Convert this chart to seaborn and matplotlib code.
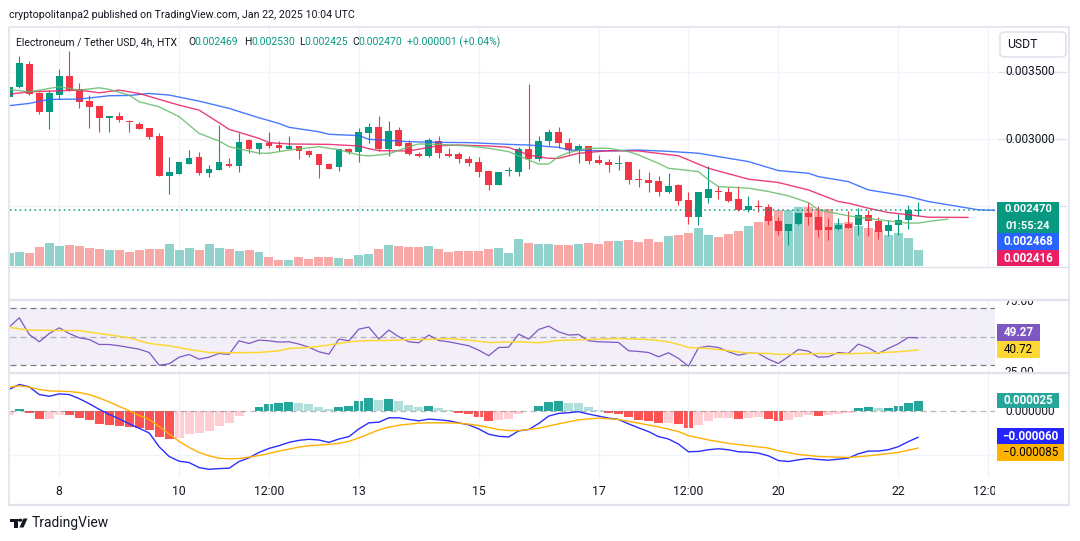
import numpy as np
import seaborn as sns
import matplotlib.pyplot as plt
from matplotlib.patches import Rectangle, FancyBboxPatch, Polygon, Circle

# ELN/USDT 4h bars, Jan 7 04:00 .. Jan 22 08:00 UTC (index 0..91), prices in 1e-6 USDT
opens = [3309, 3386, 3562, 3344, 3200, 3327, 3468, 3371, 3282, 3245,
         3156, 3171, 3131, 3111, 3082, 3022, 2728, 2743, 2817, 2866,
         2750, 2772, 2814, 2802, 2993, 2928, 2970, 2955, 2928, 2948,
         2908, 2886, 2814, 2795, 2926, 2906, 3045, 3087, 2928, 3067,
         2968, 2889, 2874, 2985, 2889, 2889, 2852, 2829, 2762, 2661,
         2760, 2757, 2926, 2849, 2988, 3052, 2970, 2913, 2948, 2844,
         2829, 2817, 2829, 2703, 2696, 2688, 2606, 2661, 2547, 2416,
         2564, 2614, 2609, 2554, 2468, 2503, 2495, 2386, 2312, 2364,
         2451, 2421, 2347, 2327, 2369, 2357, 2436, 2391, 2312, 2357,
         2399, 2469]
highs = [3401, 3616, 3577, 3351, 3364, 3520, 3653, 3416, 3327, 3247,
         3172, 3200, 3141, 3126, 3083, 3042, 2866, 2830, 2916, 2901,
         2804, 3104, 2856, 3047, 3000, 2971, 3052, 2985, 3022, 2949,
         2918, 2887, 2822, 2927, 2933, 3082, 3119, 3171, 3134, 3087,
         2993, 2903, 3005, 3022, 2936, 2906, 2874, 2864, 2763, 2753,
         2795, 2938, 3408, 3022, 3077, 3089, 3007, 2960, 2950, 2881,
         2852, 2881, 2830, 2780, 2752, 2725, 2748, 2666, 2606, 2609,
         2800, 2653, 2641, 2651, 2577, 2547, 2517, 2418, 2370, 2452,
         2532, 2498, 2413, 2413, 2465, 2485, 2470, 2418, 2394, 2443,
         2507, 2530]
lows = [3302, 3376, 3327, 3186, 3074, 3295, 3359, 3230, 3082, 3054,
        3052, 3126, 3054, 3072, 2998, 2727, 2587, 2742, 2816, 2735,
        2715, 2771, 2790, 2757, 2894, 2891, 2933, 2911, 2927, 2854,
        2869, 2713, 2775, 2762, 2891, 2832, 2968, 2908, 2876, 2949,
        2881, 2869, 2869, 2856, 2864, 2824, 2800, 2720, 2624, 2660,
        2728, 2728, 2775, 2839, 2955, 2931, 2886, 2824, 2817, 2814,
        2755, 2770, 2666, 2646, 2602, 2572, 2599, 2512, 2371, 2361,
        2527, 2554, 2534, 2467, 2453, 2453, 2361, 2282, 2208, 2363,
        2361, 2267, 2245, 2324, 2337, 2287, 2280, 2258, 2275, 2287,
        2332, 2425]
closes = [3389, 3569, 3334, 3200, 3342, 3468, 3364, 3277, 3238, 3156,
          3171, 3141, 3126, 3077, 3017, 2728, 2752, 2829, 2859, 2750,
          2777, 2829, 2800, 2978, 2928, 2970, 2950, 2933, 2948, 2913,
          2884, 2807, 2780, 2926, 2906, 3050, 3087, 2928, 3059, 2950,
          2891, 2876, 2993, 2899, 2876, 2854, 2824, 2757, 2661, 2752,
          2765, 2923, 2849, 2985, 3052, 2973, 2918, 2948, 2839, 2824,
          2807, 2822, 2698, 2698, 2676, 2606, 2653, 2542, 2416, 2602,
          2626, 2602, 2535, 2468, 2503, 2498, 2386, 2312, 2369, 2451,
          2416, 2322, 2319, 2361, 2339, 2436, 2386, 2307, 2361, 2399,
          2468, 2470]
# relative volume
volumes = [40, 42, 39, 57, 69, 60, 63, 60, 54, 51,
           48, 48, 42, 48, 51, 51, 66, 48, 54, 48,
           66, 54, 51, 45, 48, 42, 27, 18, 18, 27,
           21, 27, 27, 24, 21, 33, 36, 51, 63, 60,
           57, 57, 60, 51, 42, 45, 45, 45, 51, 54,
           39, 81, 69, 66, 66, 63, 63, 66, 69, 66,
           75, 75, 78, 72, 81, 72, 90, 93, 99, 114,
           93, 87, 96, 105, 120, 132, 150, 168, 168, 177,
           177, 171, 171, 129, 132, 120, 114, 108, 93, 99,
           84, 48]

# Williams Alligator lines (already shifted forward), bar index -> price 1e-6
jaw_k = [0, 2, 4, 7, 10, 12, 14, 16, 19, 22, 25, 27, 28, 31, 32, 35, 36, 40, 43, 46,
         50, 52, 55, 56, 60, 63, 66, 69, 71, 74, 77, 80, 81, 84, 86, 88, 90, 92, 95, 97, 99]
jaw = [3248, 3265, 3295, 3297, 3322, 3324, 3339, 3327, 3282, 3228, 3158, 3116, 3087, 3054,
       3035, 3025, 2998, 2980, 2975, 2973, 2960, 2955, 2938, 2918, 2911, 2918, 2908, 2894,
       2869, 2832, 2765, 2745, 2720, 2683, 2621, 2597, 2572, 2535, 2498, 2473, 2468]
teeth_k = [0, 2, 7, 9, 11, 13, 15, 17, 19, 21, 22, 25, 26, 28, 32, 35, 36, 37, 40, 43, 45,
           48, 50, 52, 54, 55, 57, 60, 63, 67, 70, 74, 77, 80, 83, 84, 86, 88, 90, 92, 96]
teeth = [3334, 3351, 3364, 3344, 3364, 3339, 3295, 3252, 3215, 3121, 3072, 3005, 2973, 2963,
         2960, 2948, 2928, 2913, 2911, 2950, 2955, 2948, 2938, 2881, 2856, 2856, 2894, 2913,
         2911, 2875, 2782, 2701, 2676, 2621, 2535, 2522, 2485, 2453, 2436, 2418, 2416]
lips_k = [0, 2, 5, 7, 9, 10, 12, 13, 15, 17, 19, 21, 22, 25, 26, 28, 31, 33, 35, 36, 38, 40,
          41, 43, 46, 48, 50, 52, 53, 54, 55, 56, 58, 60, 62, 63, 65, 66, 69, 70, 71, 74, 76,
          78, 80, 81, 83, 84, 87, 90, 91, 92, 94]
lips = [3369, 3351, 3389, 3364, 3381, 3369, 3327, 3277, 3240, 3166, 3042, 2985, 2943, 2894,
        2894, 2918, 2943, 2920, 2881, 2874, 2889, 2943, 2963, 2960, 2948, 2931, 2906, 2844,
        2814, 2814, 2869, 2899, 2931, 2931, 2906, 2881, 2819, 2782, 2757, 2696, 2646, 2634,
        2609, 2577, 2527, 2473, 2443, 2428, 2399, 2374, 2374, 2386, 2404]

# RSI(14) and its MA
rsi = [57.0, 63.3, 51.6, 46.5, 52.3, 56.3, 52.3, 49.3, 48.1, 44.6,
       44.6, 43.7, 42.5, 41.3, 39.0, 30.1, 31.0, 35.7, 37.6, 34.3,
       35.7, 38.3, 37.6, 47.2, 45.3, 47.7, 47.2, 46.3, 46.5, 44.9,
       42.7, 39.5, 37.8, 48.4, 47.2, 55.4, 56.8, 48.4, 54.7, 50.0,
       46.5, 45.8, 51.2, 47.4, 46.5, 45.1, 43.7, 40.6, 36.7, 42.5,
       42.7, 51.9, 48.4, 55.1, 57.5, 53.5, 51.2, 51.6, 47.2, 46.5,
       46.3, 46.0, 40.2, 39.7, 39.0, 36.0, 38.8, 34.8, 29.4, 42.3,
       43.4, 42.5, 39.5, 37.1, 38.5, 38.3, 34.3, 31.3, 36.0, 41.1,
       39.9, 35.7, 36.0, 39.0, 38.3, 44.9, 42.3, 38.3, 41.8, 45.1,
       49.5, 49.27]
rsi_ma_k = [0, 2, 5, 7, 9, 12, 14, 16, 18, 20, 22, 25, 27, 28, 30, 32, 34, 36, 38, 40, 42, 44,
            46, 48, 51, 53, 55, 58, 61, 64, 66, 67, 68, 70, 72, 74, 76, 77, 79, 81, 84, 86, 89, 91]
rsi_ma = [56.6, 54.7, 54.4, 54.4, 52.3, 49.3, 45.3, 43.7, 41.1, 39.0, 38.8, 39.0, 40.2, 41.8,
          42.5, 44.2, 46.5, 47.4, 47.4, 48.1, 48.1, 48.8, 47.7, 46.0, 46.5, 45.8, 47.4, 48.1,
          48.8, 48.1, 46.5, 44.6, 42.5, 41.8, 40.2, 38.5, 38.3, 37.6, 37.8, 38.3, 38.1, 38.5,
          39.5, 40.72]

# MACD (1e-6)
macd = [51.0, 62.4, 56.9, 39.0, 35.1, 40.6, 39.0, 29.6, 17.9, 4.7,
        -7.0, -17.2, -28.9, -39.0, -49.9, -81.9, -104.5, -115.4, -118.6, -130.3,
        -134.2, -132.6, -131.8, -116.2, -107.6, -95.2, -85.8, -79.6, -71.8, -67.1,
        -64.7, -66.3, -71.8, -64.0, -58.5, -40.6, -26.5, -25.0, -14.8, -14.8,
        -18.7, -21.8, -17.9, -19.5, -21.8, -26.5, -31.2, -40.6, -53.0, -57.7,
        -59.3, -45.2, -42.1, -28.1, -10.9, -4.7, -3.1, -0.8, -6.2, -10.9,
        -15.6, -18.7, -28.9, -38.2, -46.8, -58.5, -64.0, -75.7, -93.6, -92.8,
        -88.9, -86.6, -88.9, -93.6, -94.4, -96.7, -103.0, -113.9, -116.2, -112.3,
        -109.2, -111.5, -113.1, -110.8, -108.4, -98.3, -92.0, -92.0, -88.9, -81.9,
        -70.2, -60.0]
signal_k = [0, 1, 2, 3, 4, 6, 7, 8, 9, 10, 11, 12, 13, 14, 15, 16, 17, 18, 19, 20, 21, 22,
            23, 24, 25, 26, 27, 28, 29, 30, 31, 32, 33, 34, 35, 36, 37, 38, 39, 40, 41, 42,
            43, 44, 45, 46, 47, 48, 49, 50, 51, 53, 55, 57, 59, 61, 63, 65, 67, 68, 70, 72,
            74, 76, 77, 79, 81, 84, 86, 89, 91]
signal = [56.2, 59.3, 56.2, 50.7, 47.6, 46.0, 43.7, 39.0, 31.2, 21.8, 11.7, 1.6, -9.4, -18.7,
          -35.1, -52.3, -69.4, -83.5, -95.2, -103.0, -108.4, -110.0, -109.2, -106.1, -102.2,
          -97.5, -92.0, -87.4, -82.7, -79.6, -78.0, -76.4, -74.1, -69.4, -61.6, -52.3, -42.9,
          -36.7, -32.0, -29.6, -27.3, -26.5, -26.5, -26.5, -27.3, -29.6, -32.8, -37.4, -42.1,
          -44.5, -44.5, -39.0, -28.9, -19.5, -15.6, -18.7, -27.3, -35.9, -46.8, -56.2, -66.3,
          -74.1, -79.6, -85.0, -91.3, -99.8, -104.5, -106.9, -103.0, -95.2, -85.0]
hist = [-7.8, 4.7, -3.9, -17.9, -17.2, -8.6, -9.4, -15.6, -21.1, -29.6,
        -32.0, -34.3, -36.7, -39.0, -42.1, -60.1, -64.7, -62.4, -53.0, -50.7,
        -46.0, -34.3, -27.3, -10.9, 0.8, 9.4, 16.4, 18.7, 21.1, 18.7,
        16.4, 9.4, 4.7, 9.4, 11.7, 23.4, 30.4, 25.7, 28.1, 23.4,
        14.0, 9.4, 11.7, 7.0, 2.3, -3.9, -6.2, -13.3, -22.6, -20.3,
        -17.9, -6.2, 0.8, 11.7, 21.1, 23.4, 19.5, 18.7, 9.4, 2.3,
        -3.9, -6.2, -13.3, -20.3, -22.6, -27.3, -26.5, -29.6, -39.0, -32.0,
        -22.6, -15.6, -14.8, -17.9, -15.6, -13.3, -17.9, -22.6, -20.3, -13.3,
        -8.6, -10.9, -8.6, -6.2, -3.9, 7.0, 9.4, 7.0, 7.5, 11.7,
        18.7, 25.0]

price_ticks = [0.0025, 0.0030, 0.0035]
price_labels = [0.0030, 0.0035]  # the 0.0025 label sits under the last-price tag
tick_pos = [5, 17, 26, 35, 47, 59, 68, 77, 89, 98]
tick_labels = ["8", "10", "12:00", "13", "15", "17", "12:00", "20", "22", "12:00"]
last_change = 0.000001
last_change_pct = 0.04
time_left = "01:55:24"

# ---------------------------------------------------------------
sns.set_theme(style="white")
plt.rcParams["font.family"] = ["Roboto", "DejaVu Sans"]

W, H = 1080, 541
fig = plt.figure(figsize=(W / 100, H / 100), dpi=100)
fig.patch.set_facecolor("white")

TXT = "#131722"
GRID = "#f0f3fa"
BORDER = "#e0e3eb"
UP, DOWN = "#089981", "#f23645"

k = np.arange(len(closes))
o = np.array(opens) / 1e6
h = np.array(highs) / 1e6
l = np.array(lows) / 1e6
c = np.array(closes) / 1e6
up = c >= o
xlim = ((10 - 9.3) / 9.988, (995 - 9.3) / 9.988)
plim = (0.0020472, 0.0038337)


def pane(x0, y0, x1, y1, face="none"):
    a = fig.add_axes([x0 / W, 1 - y1 / H, (x1 - x0) / W, (y1 - y0) / H])
    a.set_facecolor(face)
    a.set_xticks([])
    a.set_yticks([])
    for s in a.spines.values():
        s.set_visible(False)
    return a


def ftext(x, y, s, **kw):
    kw.setdefault("color", TXT)
    kw.setdefault("va", "center")
    return fig.text(x / W, 1 - y / H, s, **kw)


def frect(x0, y0, x1, y1, color, z=5):
    fig.add_artist(Rectangle((x0 / W, 1 - y1 / H), (x1 - x0) / W, (y1 - y0) / H,
                             transform=fig.transFigure, color=color, lw=0, zorder=z))


def fline(xs, ys, color=BORDER, lw=1.2, z=4):
    fig.add_artist(plt.Line2D([x / W for x in xs], [1 - y / H for y in ys],
                              color=color, lw=lw, zorder=z))


# --- main pane: grid, volume, candles, alligator ---
axg = pane(10, 27, 995, 267, face="white")
axg.set_xlim(xlim)
axg.set_ylim(plim)
for t in tick_pos:
    axg.axvline(t, color=GRID, lw=1)
for p in price_ticks:
    axg.axhline(p, color=GRID, lw=1)

axv = pane(10, 27, 995, 267)
axv.set_xlim(xlim)
axv.set_ylim(-3, 714)
axv.bar(k, volumes, width=0.9, color=np.where(up, "#92d2cc", "#f7a9a7"), linewidth=0)

ax = pane(10, 27, 995, 267)
col = np.where(up, UP, DOWN)
ax.vlines(k, l, h, colors=col, linewidth=0.8)
body = np.abs(c - o)
bmin = 0.0000065
bottom = np.minimum(o, c) - np.clip(bmin - body, 0, None) / 2
ax.bar(k, np.maximum(body, bmin), bottom=bottom, width=0.68, color=col, linewidth=0)
sns.lineplot(x=jaw_k, y=np.array(jaw) / 1e6, ax=ax, color="#2962ff", linewidth=1.0, alpha=0.85)
sns.lineplot(x=teeth_k, y=np.array(teeth) / 1e6, ax=ax, color="#e91e63", linewidth=1.0, alpha=0.85)
sns.lineplot(x=lips_k, y=np.array(lips) / 1e6, ax=ax, color="#66bb6a", linewidth=1.0, alpha=0.85)
ax.axhline(c[-1], color=UP, lw=1.1, ls=(0, (1, 2.2)))
ax.set_xlim(xlim)
ax.set_ylim(plim)
ax.set_xlabel("")
ax.set_ylabel("")

# price scale
axp = pane(995, 27, 1069, 267)
axp.set_ylim(plim)
for p in price_ticks:
    axp.plot([0, 0.06], [p, p], color=BORDER, lw=1)
for p in price_labels:
    axp.text(0.135, p, f"{p:.6f}", transform=axp.get_yaxis_transform(), fontsize=8.6,
             color=TXT, va="center", ha="left", clip_on=True)

# --- RSI pane ---
axr = pane(10, 300, 995, 373)
for t in tick_pos:
    axr.axvline(t, color=GRID, lw=1)
axr.axhspan(30, 70, color="#7e57c2", alpha=0.09, lw=0)
for lvl, a in [(70, 1.0), (50, 0.55), (30, 1.0)]:
    axr.axhline(lvl, color="#787b86", lw=0.9, ls=(0, (4.8, 3.2)), alpha=a)
sns.lineplot(x=k, y=rsi, ax=axr, color="#7e57c2", linewidth=0.9)
sns.lineplot(x=rsi_ma_k, y=rsi_ma, ax=axr, color="#fdd835", linewidth=1.1)
axr.set_xlim(xlim)
axr.set_ylim(24.6, 75.8)
axr.set_xlabel("")
axr.set_ylabel("")

axrs = pane(995, 300, 1069, 373)
axrs.set_ylim(24.6, 75.8)
for v in [75, 25]:
    axrs.text(0.135, v, f"{v:.2f}", transform=axrs.get_yaxis_transform(), fontsize=8.6,
              color=TXT, va="center", ha="left", clip_on=True)

# --- MACD pane ---
mlim = (-1.544e-4, 0.89e-4)
axm = pane(10, 373, 995, 478)
for t in tick_pos:
    axm.axvline(t, color=GRID, lw=1)
axm.axhline(-0.0001, color=GRID, lw=1)
hv = np.array(hist)
prev = np.concatenate([[hv[0]], hv[:-1]])
hcol = np.where(hv >= 0, np.where(hv > prev, "#26a69a", "#b2dfdb"),
                np.where(hv < prev, "#ff5252", "#ffcdd2"))
axm.bar(k, hv / 1e6, width=0.9, color=hcol, linewidth=0)
axm.axhline(0, color="#787b86", lw=0.9, ls=(0, (4.8, 3.2)), alpha=0.55)
sns.lineplot(x=k, y=np.array(macd) / 1e6, ax=axm, color="#2d2dff", linewidth=1.0)
sns.lineplot(x=signal_k, y=np.array(signal) / 1e6, ax=axm, color="#ffb000", linewidth=1.0)
axm.set_xlim(xlim)
axm.set_ylim(mlim)
axm.set_xlabel("")
axm.set_ylabel("")

axms = pane(995, 373, 1069, 478)
axms.set_ylim(mlim)
axms.text(0.135, 0, "0.000000", transform=axms.get_yaxis_transform(), fontsize=8.6,
          color=TXT, va="center", ha="left", clip_on=True)

# --- time axis ---
axt = pane(10, 478, 995, 505)
axt.set_xlim(xlim)
axt.set_ylim(0, 1)
for t, s in zip(tick_pos, tick_labels):
    axt.text(t, 0.5, s, fontsize=8.8, color=TXT, ha="center", va="center", clip_on=True)

# --- frame and separators ---
fline([9, 1069], [26.5, 26.5])
fline([9, 9], [26.5, 505])
fline([1069, 1069], [26.5, 505])
fline([9, 1069], [505, 505], lw=1.6)
fline([10, 1069], [267, 267], lw=1.0)
fline([10, 1069], [300, 300], lw=1.6)
fline([10, 1069], [373, 373], lw=1.6)

# --- header and legend ---
ftext(9, 15, "cryptopolitanpa2 published on TradingView.com, Jan 22, 2025 10:04 UTC", fontsize=7.7)

legend_parts = [(16, "Electroneum / Tether USD, 4h, HTX", TXT),
                (188, "O", TXT), (194.5, f"{o[-1]:.6f}", UP),
                (244, "H", TXT), (251, f"{h[-1]:.6f}", UP),
                (299, "L", TXT), (304.5, f"{l[-1]:.6f}", UP),
                (352, "C", TXT), (358.5, f"{c[-1]:.6f}", UP),
                (407, f"+{last_change:.6f} (+{last_change_pct:.2f}%)", UP)]
for x, s, color in legend_parts:
    ftext(x, 42, s, fontsize=7.5, color=color)

fig.add_artist(FancyBboxPatch((1000 / W, 1 - 57 / H), 66 / W, 25 / H,
                              boxstyle="round,pad=0,rounding_size=0.006",
                              transform=fig.transFigure, fc="white", ec=BORDER, lw=1.2, zorder=5))
ftext(1022, 45, "USDT", fontsize=8.8, ha="center", zorder=6)

# --- value tags ---
frect(997, 202, 1059, 233, UP)
ftext(1028, 209.3, f"{c[-1]:.6f}", fontsize=8, color="white", ha="center", zorder=6, weight="bold")
ftext(1028, 225.8, time_left, fontsize=8, color="white", ha="center", zorder=6, weight="bold")
frect(997, 233, 1059, 250, "#2962ff")
ftext(1028, 241.5, f"{jaw[-1] / 1e6:.6f}", fontsize=8.4, color="white", ha="center", zorder=6, weight="bold")
frect(997, 250, 1059, 266, "#e91e63")
ftext(1028, 258, f"{teeth[-1] / 1e6:.6f}", fontsize=8.4, color="white", ha="center", zorder=6, weight="bold")

frect(997, 324, 1040, 341, "#7e57c2")
ftext(1018.5, 332.5, f"{rsi[-1]:.2f}", fontsize=8.4, color="white", ha="center", zorder=6, weight="bold")
frect(997, 341, 1040, 358, "#fdd835")
ftext(1018.5, 349.5, f"{rsi_ma[-1]:.2f}", fontsize=8.4, color="black", ha="center", zorder=6)

frect(997, 393, 1059, 408, "#26a69a")
ftext(1028, 400.5, f"{hist[-1] / 1e6:.6f}", fontsize=8.4, color="white", ha="center", zorder=6, weight="bold")
frect(997, 428, 1064, 444, "#2424ff")
ftext(1030.5, 436, f"\u2212{abs(macd[-1]) / 1e6:.6f}", fontsize=8.4, color="white", ha="center", zorder=6, weight="bold")
frect(997, 444, 1064, 461, "#ffb300")
ftext(1030.5, 452.5, f"\u2212{abs(signal[-1]) / 1e6:.6f}", fontsize=8.4, color="black", ha="center", zorder=6)

# --- TradingView logo ---
frect(10, 518.5, 17.5, 521.5, TXT, z=6)
frect(14, 518.5, 17.5, 527.5, TXT, z=6)
fig.add_artist(Circle((20.2 / W, 1 - 520.2 / H), 1.6 / W, transform=fig.transFigure, color=TXT, zorder=6))
fig.add_artist(Polygon([(23.5 / W, 1 - 518.5 / H), (27.5 / W, 1 - 518.5 / H),
                        (23.5 / W, 1 - 527.5 / H), (19.5 / W, 1 - 527.5 / H)],
                       transform=fig.transFigure, color=TXT, lw=0, zorder=6))
ftext(32, 523, "TradingView", fontsize=10)

fig.savefig("out.png", dpi=100)
